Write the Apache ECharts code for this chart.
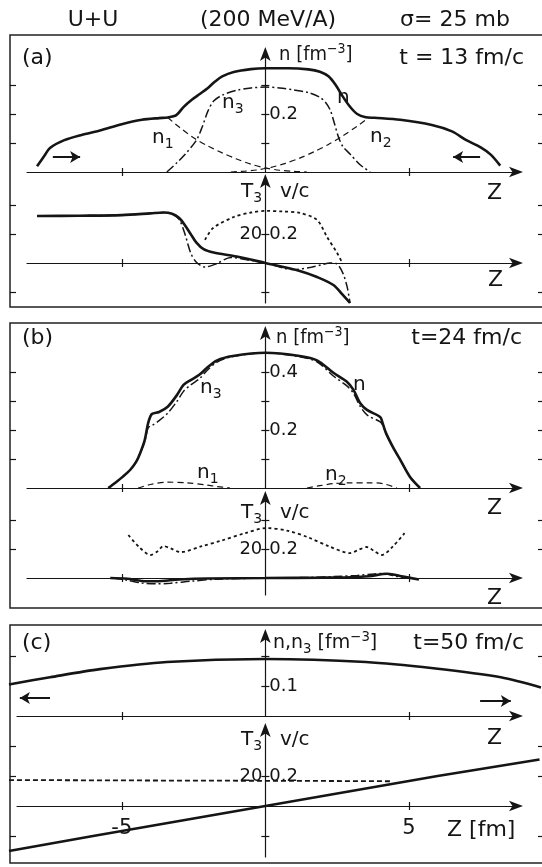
<!DOCTYPE html>
<html><head><meta charset="utf-8">
<script src="https://cdn.jsdelivr.net/npm/echarts@6/dist/echarts.min.js"></script>
<style>html,body{margin:0;padding:0;background:#fff}#c{width:542px;height:867px}</style>
</head><body><div id="c"></div>
<script>
// ---------------- DATA (z in fm) ----------------
// (a) t = 13 fm/c, densities [fm^-3]
const aN_z  = [-7.95,-7.7,-7.5,-7.0,-6.4,-5.76,-5.0,-4.3,-3.7,-3.4,-3.1,-2.85,-2.55,-2.27,-2.0,-1.75,-1.5,-1.1,-0.5,0,0.8,1.5,1.9,2.2,2.45,2.7,2.95,3.2,3.5,3.8,4.7,5.8,6.5,7.0,7.5,7.85,8.18];
const aN_v  = [0.02,0.055,0.083,0.11,0.128,0.143,0.165,0.18,0.186,0.188,0.196,0.224,0.25,0.27,0.29,0.312,0.33,0.345,0.355,0.358,0.358,0.354,0.346,0.33,0.3,0.26,0.225,0.2,0.189,0.187,0.18,0.162,0.14,0.11,0.085,0.06,0.022];
const aN1_z = [-3.4,-3.0,-2.5,-2.0,-1.5,-1.0,-0.5,0,0.5,1.0,1.45];
const aN1_v = [0.188,0.155,0.118,0.09,0.066,0.045,0.027,0.014,0.006,0.002,0];
const aN2_z = [-1.2,-0.7,-0.3,0.2,0.7,1.2,1.7,2.2,2.7,3.2,3.6];
const aN2_v = [0,0.003,0.007,0.016,0.03,0.048,0.07,0.095,0.125,0.158,0.187];
const aN3_z = [-3.43,-3.1,-2.8,-2.4,-2.2,-2.0,-1.8,-1.5,-1.0,-0.5,0,0.5,1.0,1.5,1.9,2.1,2.26,2.4,2.55,2.7,2.95,3.3,3.65];
const aN3_v = [0,0.03,0.06,0.11,0.155,0.21,0.245,0.265,0.282,0.29,0.293,0.29,0.283,0.274,0.258,0.24,0.214,0.17,0.12,0.088,0.062,0.025,0];
// (a) velocities v/c and temperature T3 [MeV]
const aV_z  = [-7.95,-6.5,-5.0,-4.0,-3.55,-3.25,-3.0,-2.8,-2.6,-2.4,-2.15,-1.8,-1.0,0,1.2,1.8,2.37,2.7,2.95];
const aV_v  = [0.324,0.326,0.33,0.342,0.348,0.34,0.31,0.26,0.2,0.14,0.095,0.072,0.045,0.0,-0.055,-0.097,-0.152,-0.22,-0.276];
const aV3_z = [-7.95,-6.5,-5.0,-4.0,-3.55,-3.25,-3.0,-2.8,-2.6,-2.4,-2.1,-1.7,-1.2,-0.5,0,0.97,1.6,2.0,2.25,2.48,2.7,2.85,2.95];
const aV3_v = [0.324,0.326,0.33,0.342,0.348,0.34,0.3,0.2,0.07,0.005,-0.028,-0.005,0.038,0.018,0.0,-0.045,-0.03,-0.01,0.0,-0.005,-0.07,-0.165,-0.276];
const aT_z  = [-2.1,-1.82,-1.1,-0.5,0.05,0.6,1.2,1.8,2.15,2.5,2.67];
const aT_v  = [15.9,24.1,31.7,34.8,35.9,35.5,34.5,29.7,17.9,6.9,0.5];
// (b) t = 24 fm/c
const bN_z  = [-5.47,-5.2,-4.95,-4.71,-4.5,-4.36,-4.2,-4.08,-3.95,-3.7,-3.4,-3.08,-2.85,-2.6,-2.3,-2.03,-1.68,-1.13,0,1.2,1.8,2.37,2.84,3.07,3.3,3.54,4.0,4.08,4.2,4.45,4.7,5.04,5.39];
const bN_v  = [0,0.02,0.04,0.062,0.09,0.12,0.165,0.224,0.255,0.262,0.28,0.32,0.355,0.372,0.39,0.414,0.44,0.455,0.466,0.455,0.44,0.397,0.366,0.338,0.293,0.269,0.245,0.225,0.19,0.14,0.097,0.038,0];
const bN3_v = [0,0.02,0.04,0.062,0.09,0.12,0.16,0.208,0.215,0.232,0.258,0.298,0.333,0.355,0.376,0.405,0.434,0.453,0.466,0.452,0.435,0.386,0.352,0.326,0.282,0.252,0.228,0.218,0.188,0.14,0.097,0.038,0];
const bN1_z = [-4.43,-4.0,-3.43,-2.73,-2.03,-1.68,-1.23];
const bN1_v = [0,0.012,0.02,0.018,0.01,0.005,0];
const bN2_z = [1.45,1.9,2.37,2.95,3.6,4.1,4.58];
const bN2_v = [0,0.008,0.015,0.018,0.018,0.015,0];
const bV_z  = [-5.4,-4.8,-4.3,-3.8,-3.0,-2.0,0,2.0,3.0,3.6,4.25,4.8,5.35];
const bV_v  = [0,-0.005,-0.02,-0.022,-0.01,-0.003,0,0.003,0.005,0.012,0.03,0.01,-0.01];
const bV3_z = [-5.3,-4.8,-4.3,-3.8,-3.3,-2.6,-1.7,0,1.5,2.4,3.2,3.8,4.1,4.6,5.1];
const bV3_v = [0,-0.015,-0.035,-0.04,-0.036,-0.022,-0.008,0,0.004,0.01,0.018,0.028,0.032,0.01,0];
const bT_z  = [-4.77,-4.4,-4.0,-3.75,-3.55,-3.3,-2.96,-2.2,-1.5,-0.7,0.05,0.8,1.5,2.2,2.95,3.25,3.53,3.8,4.05,4.45,4.85];
const bT_v  = [29.7,21.5,15.9,18.5,22.1,20.5,17.9,22,26,31,34.5,32.5,28,22,17.2,19.5,21.4,18.5,15.9,22,31];
// (c) t = 50 fm/c
const cN_z  = [-8.93,-7.5,-5.76,-3.43,0,3.5,5.85,8.2,9.6];
const cN_v  = [0.105,0.129,0.156,0.18,0.19,0.18,0.159,0.129,0.095];
const cV_z  = [-8.93,-6,-3,0,3,6,9.55];
const cV_v  = [-0.30,-0.20,-0.10,0.0,0.10,0.20,0.31];
const cT_z  = [-8.93,-4,0,2,4.35];
const cT_v  = [17.3,17.0,16.8,16.7,16.5];
// tick values
const zTicks = [-5,5];
const zLabels = [-5,5];

// ---------------- LAYOUT ----------------
const FONT = "'DejaVu Sans','Liberation Sans',sans-serif";
const INK = '#151515';
const FRAME_L = 10, CANVAS_R = 542;
const panels = [
 {left:27,width:491,top:52, height:120,x:[-8.3,8.8], y:[0,0.414],     kind:'n',ticks:[0.1,0.2,0.3],    labels:[0.2],    frame:[0.1,0.2,0.3]},
 {left:27,width:491,top:179,height:124,x:[-8.3,8.8], y:[-0.276,0.579],kind:'v',ticks:[-0.2,0.2],       labels:[0.2],    frame:[-0.2,0.2,0.4]},
 {left:27,width:491,top:331,height:157,x:[-8.3,8.8], y:[0,0.541],     kind:'n',ticks:[0.1,0.2,0.3,0.4],labels:[0.2,0.4],frame:[0.1,0.2,0.3,0.4]},
 {left:27,width:491,top:496,height:99, x:[-8.3,8.8], y:[-0.117,0.566],kind:'v',ticks:[0.2,0.4],        labels:[0.2],    frame:[0.2,0.4]},
 {left:17,width:501,top:634,height:82, x:[-8.65,8.8],y:[0,0.273],     kind:'n',ticks:[0.1,0.2],        labels:[0.1],    frame:[0.2], wide:true},
 {left:17,width:501,top:728,height:129,x:[-8.65,8.8],y:[-0.34,0.52],  kind:'v',ticks:[-0.2,0.2],       labels:[0.2],    frame:[-0.2,0.2,0.4], xlab:true, wide:true, labPad:[0,0,12,0]}
];
const grid=[], xAxis=[], yAxis=[];
const ln = {color:INK,width:1.2};
const lab = {fontSize:18,fontFamily:FONT,color:INK};
// axis index lookup per panel: {x, yMain, yRight} used by series
const ax = [];
panels.forEach((g,i)=>{
  grid.push({left:g.left,width:g.width,top:g.top,height:g.height,containLabel:false,outerBoundsMode:'none'});
  const zeroX = g.left + (0-g.x[0])/(g.x[1]-g.x[0])*g.width;
  const zeroY = g.top + (g.y[1]-0)/(g.y[1]-g.y[0])*g.height;
  const bottom = g.top+g.height, right = g.left+g.width;
  const gi = grid.length-1;
  const xb = {type:'value',gridIndex:gi,min:g.x[0],max:g.x[1],splitLine:{show:false}};
  const xi = xAxis.length;
  xAxis.push(Object.assign({},xb,{position:'bottom',offset:zeroY-bottom,
    axisLine:{show:true,onZero:false,symbol:['none','arrow'],symbolSize:[8,14],symbolOffset:[0,5],lineStyle:ln},
    axisTick:{show:true,customValues:zTicks,length:4,lineStyle:ln},
    axisLabel: g.xlab ? Object.assign({show:true,customValues:zLabels,formatter:v=>(v<0?'-':'')+Math.abs(v),margin:12},lab,{fontSize:21}) : {show:false}}));
  xAxis.push(Object.assign({},xb,{position:'top',offset:g.top-zeroY,
    axisLine:{show:false,onZero:false},
    axisTick:{show:true,customValues:zTicks,length:4,lineStyle:ln},axisLabel:{show:false}}));
  const s = g.kind==='v'?100:1;
  const yb = {type:'value',gridIndex:gi,splitLine:{show:false}};
  const yi = yAxis.length;
  yAxis.push(Object.assign({},yb,{position:'left',offset:g.left-zeroX,min:g.y[0]*s,max:g.y[1]*s,
    axisLine:{show:true,onZero:false,symbol:['none','arrow'],symbolSize:[8,14],symbolOffset:[0,5],lineStyle:ln},
    axisTick:{show:true,customValues:g.ticks.map(v=>v*s),length:4,lineStyle:ln},
    axisLabel: g.kind==='v' ? Object.assign({show:true,customValues:[20],formatter:v=>String(Math.round(v)),margin:3,padding:g.labPad||0},lab) : {show:false}}));
  yAxis.push(Object.assign({},yb,{position:'right',offset:zeroX-right,min:g.y[0],max:g.y[1],
    axisLine:{show:false,onZero:false},
    axisTick:{show:true,customValues:g.ticks,length:4,lineStyle:ln},
    axisLabel:Object.assign({show:true,customValues:g.labels,formatter:v=>v.toFixed(1),margin:4,padding:g.labPad||0},lab)}));
  yAxis.push(Object.assign({},yb,{position:'left',offset:g.left-FRAME_L,min:g.y[0],max:g.y[1],
    axisLine:{show:false,onZero:false},axisTick:{show:true,inside:true,customValues:g.frame,length:6,lineStyle:ln},axisLabel:{show:false}}));
  yAxis.push(Object.assign({},yb,{position:'right',offset:CANVAS_R+1-right,min:g.y[0],max:g.y[1],
    axisLine:{show:false,onZero:false},axisTick:{show:true,inside:true,customValues:g.frame,length:5,lineStyle:ln},axisLabel:{show:false}}));
  ax.push({x:xi, y0:yi, y1:yi+1});
});
// wider hidden coordinate systems (same scales) so that panel (c) curves run to the frame edges
panels.forEach((g,i)=>{
  if(!g.wide) return;
  const ppf = g.width/(g.x[1]-g.x[0]);
  const right = g.left+g.width;
  grid.push({left:FRAME_L-1,width:CANVAS_R-FRAME_L+1,top:g.top,height:g.height,containLabel:false,outerBoundsMode:'none'});
  const gi = grid.length-1;
  const xi = xAxis.length, yi = yAxis.length;
  xAxis.push({type:'value',gridIndex:gi,show:false,min:g.x[0]-(g.left-FRAME_L+1)/ppf,max:g.x[1]+(CANVAS_R-right)/ppf});
  const s = g.kind==='v'?100:1;
  yAxis.push({type:'value',gridIndex:gi,show:false,min:g.y[0]*s,max:g.y[1]*s});
  yAxis.push({type:'value',gridIndex:gi,show:false,min:g.y[0],max:g.y[1]});
  ax[i] = {x:xi, y0:yi, y1:yi+1};
});

const SOLID = {width:2.6,type:'solid'}, DASH={width:1.2,type:[6,4]}, DASHDOT={width:1.5,type:[9,3,2,3]}, DOT={width:1.8,type:[3,3]}, DASHC={width:1.8,type:[5,3]};
function line(p, yk, zs, vs, st, extra){
  return Object.assign({type:'line',xAxisIndex:ax[p].x,yAxisIndex:ax[p][yk],data:zs.map((z,k)=>[z,vs[k]]),
    symbol:'none',showSymbol:false,smooth:0.3,clip:false,silent:true,lineStyle:Object.assign({color:INK},st)},extra||{});
}
function arrows(list){
  return {silent:true,symbol:['none','arrow'],symbolSize:[9,10],label:{show:false},
    lineStyle:{color:INK,width:2,type:'solid'},emphasis:{disabled:true},
    data:list.map(a=>[{coord:[a[0],a[2]]},{coord:[a[1],a[2]]}])};
}
// annotation arrows [zFrom, zTo, level]
const aArrows = [[-7.4,-6.45,0.052],[7.48,6.54,0.052]];
const cArrows = [[-7.5,-8.55,0.06],[7.48,8.55,0.05]];

const series = [
  line(0,'y0',aN1_z,aN1_v,DASH), line(0,'y0',aN2_z,aN2_v,DASH), line(0,'y0',aN3_z,aN3_v,DASHDOT),
  line(0,'y0',aN_z,aN_v,SOLID,{markLine:arrows(aArrows)}),
  line(1,'y0',aT_z,aT_v,DOT), line(1,'y1',aV3_z,aV3_v,DASHDOT), line(1,'y1',aV_z,aV_v,SOLID),
  line(2,'y0',bN1_z,bN1_v,DASH), line(2,'y0',bN2_z,bN2_v,DASH), line(2,'y0',bN_z,bN3_v,DASHDOT), line(2,'y0',bN_z,bN_v,SOLID),
  line(3,'y0',bT_z,bT_v,DOT), line(3,'y1',bV3_z,bV3_v,DASHDOT), line(3,'y1',bV_z,bV_v,SOLID),
  line(4,'y0',cN_z,cN_v,SOLID,{markLine:arrows(cArrows)}),
  line(5,'y0',cT_z,cT_v,DASHC,{smooth:false}), line(5,'y1',cV_z,cV_v,SOLID,{smooth:false})
];

// ---------------- TEXT / FRAMES ----------------
const RICH = {m:{fontSize:20,lineHeight:26,fontFamily:FONT,fill:INK,color:INK},
  b:{fontSize:22,lineHeight:26,fontFamily:FONT,fill:INK,color:INK},
  s:{fontSize:14,lineHeight:14,verticalAlign:'bottom',fontFamily:FONT,fill:INK,color:INK},
  p:{fontSize:14,lineHeight:14,verticalAlign:'top',fontFamily:FONT,fill:INK,color:INK}};
function T(str,x,y,align,sx){
  return {type:'text',x:x,y:y,scaleX:sx||1,silent:true,style:{text:str,rich:RICH,fontSize:20,fontFamily:FONT,fill:INK,align:align||'left',verticalAlign:'middle'}};
}
const FM = '{m|[fm}{p|−3}{m|]}';
const texts = [
  T('{b|U+U}',93,20,'center'), T('{b|(200 MeV/A)}',268,20,'center'), T('{b|σ= 25 mb}',455,20,'center'),
  // (a)
  T('{b|(a)}',22,58), T('{b|t = 13 fm/c}',524,58,'right'), T('{m|n }'+FM,279,55,'left',0.9),
  T('{m|n}',337,98), T('{m|n}{s|3}',222,103), T('{m|n}{s|1}',152,138), T('{m|n}{s|2}',370,137),
  T('{b|Z}',487,193), T('{m|T}{s|3}',241,192), T('{m|v/c}',280,192), T('{b|Z}',488,280),
  // (b)
  T('{b|(b)}',22,338), T('{b|t=24 fm/c}',522,338,'right'), T('{m|n }'+FM,276,338,'left',0.9),
  T('{m|n}{s|3}',200,388), T('{m|n}',353,385), T('{m|n}{s|1}',197,473), T('{m|n}{s|2}',325,475),
  T('{b|Z}',487,508), T('{m|T}{s|3}',241,513), T('{m|v/c}',280,513), T('{b|Z}',487,598),
  // (c)
  T('{b|(c)}',22,643), T('{b|t=50 fm/c}',524,643,'right'), T('{m|n,n}{s|3}{m| }'+FM,273,643,'left',0.95),
  T('{b|Z}',487,738), T('{m|T}{s|3}',241,740), T('{m|v/c}',280,740), T('{b|Z [fm]}',447,830)
];
const frames = [[35,307],[323,608],[625,863]].map(f=>({type:'rect',silent:true,shape:{x:FRAME_L,y:f[0],width:545,height:f[1]-f[0]},
  style:{fill:'none',stroke:'#222',lineWidth:1.5}}));

const chart = echarts.init(document.getElementById('c'),null,{renderer:'canvas'});
chart.setOption({animation:false,backgroundColor:'#fff',grid,xAxis,yAxis,series,graphic:frames.concat(texts)});
</script></body></html>
